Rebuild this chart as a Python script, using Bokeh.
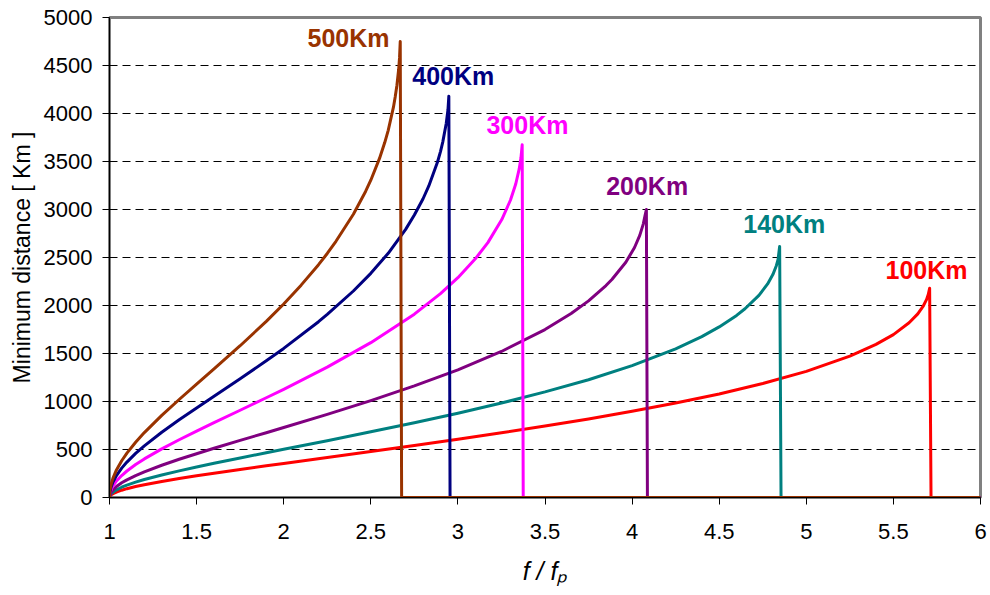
from bokeh.plotting import figure
from bokeh.models import FixedTicker, CustomJSTickFormatter, Range1d, ColumnDataSource
from bokeh.core.properties import value
from bokeh.embed import file_html
from bokeh.resources import INLINE

# ---- data ----
heights = ["100Km", "140Km", "200Km", "300Km", "400Km", "500Km"]
colors = ["#FF0000", "#008080", "#800080", "#FF00FF", "#000080", "#993300"]

x_100 = [1.0, 1.003, 1.01, 1.02, 1.04, 1.07, 1.1, 1.15, 1.2, 1.3, 1.4, 1.5, 1.6, 1.75, 1.9, 2.0,
         2.25, 2.5, 2.75, 3.0, 3.25, 3.5, 3.75, 4.0, 4.25, 4.5, 4.75, 5.0, 5.25, 5.4, 5.5, 5.59,
         5.64, 5.67, 5.69, 5.7, 5.708, 5.716, 6.0]
y_100 = [0, 16, 28, 40, 57, 76, 92, 114, 133, 167, 197, 226, 253, 292, 330, 355,
         417, 479, 542, 607, 674, 744, 818, 898, 984, 1079, 1187, 1314, 1472, 1595, 1697, 1820,
         1913, 1990, 2061, 2114, 2180, 0, 0]

x_140 = [1.0, 1.003, 1.01, 1.02, 1.04, 1.07, 1.1, 1.15, 1.2, 1.3, 1.4, 1.5, 1.6, 1.75, 1.9, 2.0,
         2.25, 2.5, 2.75, 3.0, 3.25, 3.5, 3.75, 4.0, 4.25, 4.4, 4.5, 4.6, 4.648, 4.728, 4.778,
         4.808, 4.828, 4.838, 4.847, 4.855, 6.0]
y_140 = [0, 22, 40, 56, 80, 107, 129, 160, 187, 234, 277, 318, 356, 412, 466, 502,
         592, 684, 779, 878, 984, 1100, 1227, 1374, 1549, 1676, 1777, 1897, 1966, 2106, 2225,
         2322, 2414, 2480, 2615, 0, 0]

x_200 = [1.0, 1.003, 1.01, 1.02, 1.04, 1.07, 1.1, 1.15, 1.2, 1.3, 1.4, 1.5, 1.6, 1.75, 1.9, 2.0,
         2.25, 2.5, 2.75, 3.0, 3.25, 3.5, 3.65, 3.75, 3.85, 3.884, 3.964, 4.014, 4.044, 4.064,
         4.074, 4.082, 4.088, 6.0]
y_200 = [0, 31, 57, 80, 114, 153, 184, 228, 267, 336, 398, 456, 513, 595, 675, 729,
         866, 1009, 1162, 1330, 1521, 1749, 1917, 2048, 2208, 2271, 2451, 2604, 2730, 2848,
         2934, 3000, 0, 0]

x_300 = [1.0, 1.003, 1.01, 1.02, 1.04, 1.07, 1.1, 1.15, 1.2, 1.3, 1.4, 1.5, 1.6, 1.75, 1.9, 2.0,
         2.25, 2.5, 2.75, 2.9, 3.0, 3.1, 3.172, 3.252, 3.302, 3.332, 3.352, 3.362, 3.369, 3.375,
         6.0]
y_300 = [0, 47, 85, 121, 172, 229, 276, 343, 402, 507, 602, 692, 780, 909, 1039, 1127,
         1358, 1613, 1910, 2124, 2290, 2486, 2655, 2895, 3099, 3266, 3423, 3538, 3674, 0,
         0]

x_400 = [1.0, 1.003, 1.01, 1.02, 1.04, 1.07, 1.1, 1.15, 1.2, 1.3, 1.4, 1.5, 1.6, 1.75, 1.9, 2.0,
         2.2, 2.25, 2.4, 2.5, 2.6, 2.7, 2.75, 2.8, 2.833, 2.883, 2.9, 2.913, 2.933, 2.943, 2.948,
         2.955, 6.0]
y_400 = [0, 62, 113, 161, 229, 306, 369, 459, 538, 680, 810, 933, 1055, 1237, 1424, 1553,
         1831, 1907, 2151, 2335, 2544, 2793, 2942, 3112, 3245, 3495, 3603, 3702, 3896, 4039, 4180,
         0, 0]

x_500 = [1.0, 1.003, 1.01, 1.02, 1.04, 1.07, 1.1, 1.15, 1.2, 1.3, 1.4, 1.5, 1.6, 1.75, 1.9, 2.0,
         2.1, 2.2, 2.25, 2.3, 2.4, 2.47, 2.5, 2.55, 2.58, 2.6, 2.63, 2.64, 2.65, 2.66, 2.665,
         2.669, 2.677, 6.0]
y_500 = [0, 78, 142, 201, 287, 383, 462, 575, 676, 855, 1021, 1181, 1339, 1581, 1835, 2016,
         2212, 2425, 2542, 2669, 2950, 3188, 3305, 3532, 3697, 3825, 4066, 4171, 4294, 4461, 4582,
         4750, 0, 0]

label_x = [5.455, 4.638, 3.851, 3.164, 2.738, 2.137]
label_y = [2365, 2845, 3240, 3880, 4395, 4790]

x_ticks = [1, 1.5, 2, 2.5, 3, 3.5, 4, 4.5, 5, 5.5, 6]
y_ticks = [0, 500, 1000, 1500, 2000, 2500, 3000, 3500, 4000, 4500, 5000]

FONT = "Liberation Sans"

p = figure(width=990, height=593, output_backend="svg", toolbar_location=None,
           x_range=Range1d(1, 6), y_range=Range1d(0, 5000),
           min_border_left=109, min_border_right=10, min_border_top=17, min_border_bottom=96)
p.background_fill_color = "white"
p.border_fill_color = "white"
p.outline_line_color = "#808080"
p.outline_line_width = 3

# grid
p.xgrid.visible = False
p.ygrid.ticker = FixedTicker(ticks=y_ticks[1:-1])
p.ygrid.grid_line_color = "black"
p.ygrid.grid_line_dash = "8 5"
p.ygrid.grid_line_width = 1

# axes
for ax in (p.xaxis[0], p.yaxis[0]):
    ax.axis_line_color = "black"
    ax.axis_line_width = 1
    ax.major_tick_line_color = "black"
    ax.major_tick_in = 0
    ax.major_tick_out = 7
    ax.minor_tick_line_color = None
    ax.major_label_text_font = FONT
    ax.major_label_text_font_size = "22px"
    ax.major_label_text_color = "black"
    ax.formatter = CustomJSTickFormatter(code="return tick.toString();")
    ax.axis_label_text_font = FONT
    ax.axis_label_text_color = "black"
p.xaxis[0].ticker = FixedTicker(ticks=x_ticks)
p.yaxis[0].ticker = FixedTicker(ticks=y_ticks)
p.xaxis[0].major_label_standoff = 19
p.yaxis[0].major_label_standoff = 10

p.yaxis[0].axis_label = "Minimum distance [ Km ]"
p.yaxis[0].axis_label_text_font_style = "normal"
p.yaxis[0].axis_label_text_font_size = "23px"
p.yaxis[0].axis_label_standoff = 6
p.xaxis[0].axis_label = "f / f\u209a"
p.xaxis[0].axis_label_text_font_style = "italic"
p.xaxis[0].axis_label_text_font_size = "25px"
p.xaxis[0].axis_label_standoff = 15

series = [(x_100, y_100), (x_140, y_140), (x_200, y_200), (x_300, y_300), (x_400, y_400), (x_500, y_500)]
for (xs, ys), c in zip(series, colors):
    p.line(xs, ys, line_color=c, line_width=3, line_join="round")

src = ColumnDataSource(dict(x=label_x, y=label_y, t=heights, c=colors))
p.text(x="x", y="y", text="t", text_color="c", source=src, text_font=value(FONT),
       text_font_style="bold", text_font_size="25px", text_baseline="alphabetic", text_align="left")

open("out.html", "w").write(file_html(p, INLINE))
